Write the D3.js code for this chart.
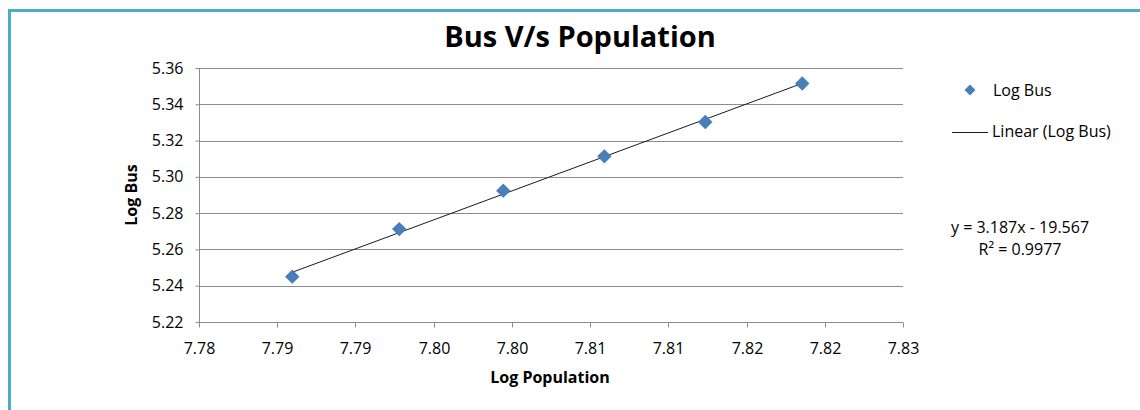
<!DOCTYPE html>
<html lang="en">
<head>
    <meta charset="utf-8">
    <title>Bus V/s Population</title>
    <script src="https://d3js.org/d3.v7.min.js"></script>
    <style>
      body { margin: 0; background: #fff; }
      text { font-family: "Open Sans", "Noto Sans", sans-serif; fill: #000; }
      .grid line { stroke: #8c8c8c; stroke-width: 1; }
    </style>
</head>
<body>
<svg id="chart"></svg>
<script>
    // Data
    const logPopulation = [7.78846, 7.79530, 7.80195, 7.80841, 7.81486, 7.82106];
    const logBus = [5.2450, 5.2712, 5.2924, 5.3113, 5.3302, 5.3515];

    // Axis setup
    const xMin = 7.7825, xMax = 7.8275;
    const xTickLabels = ["7.78", "7.79", "7.79", "7.80", "7.80", "7.81", "7.81", "7.82", "7.82", "7.83"];
    const yTicks = [5.22, 5.24, 5.26, 5.28, 5.30, 5.32, 5.34, 5.36];

    const equationText = "y = 3.187x - 19.567";
    const r2Text = "R² = 0.9977";

    const W = 1140, H = 410;
    const svg = d3.select("#chart").attr("width", W).attr("height", H);

    // Outer frame (teal border on left and top)
    svg.append("path")
        .attr("d", "M9.5," + H + " V10.5 H" + W)
        .attr("fill", "none")
        .attr("stroke", "#4bacc6")
        .attr("stroke-width", 3);

    const plot = { left: 199, right: 903, top: 68, bottom: 322 };

    const x = d3.scaleLinear().domain([xMin, xMax]).range([plot.left, plot.right]);
    const y = d3.scaleLinear().domain([5.22, 5.36]).range([plot.bottom, plot.top]);

    // Gridlines
    svg.append("g")
        .attr("class", "grid")
        .selectAll("line")
        .data(yTicks.slice(1))
        .join("line")
        .attr("x1", plot.left)
        .attr("x2", plot.right)
        .attr("y1", d => Math.round(y(d)) + 0.5)
        .attr("y2", d => Math.round(y(d)) + 0.5);

    // X axis: evenly spaced ticks, one per label (labels repeat, so draw by index)
    const xi = d3.scalePoint().domain(d3.range(xTickLabels.length)).range([plot.left, plot.right]);
    const xAxis = svg.append("g").attr("transform", `translate(0,${plot.bottom + 0.5})`);
    xAxis.append("path")
        .attr("d", `M${plot.left},0H${plot.right}`)
        .attr("stroke", "#8c8c8c");
    const xTick = xAxis.selectAll(".xtick")
        .data(xTickLabels.map((label, i) => ({ label, i })))
        .join("g")
        .attr("class", "xtick")
        .attr("transform", d => `translate(${Math.round(xi(d.i)) + 0.5},0)`);
    xTick.append("line").attr("y2", 5).attr("stroke", "#8c8c8c");
    xTick.append("text")
        .attr("y", 31)
        .attr("text-anchor", "middle")
        .style("font-size", "16px")
        .text(d => d.label);

    // Y axis
    const yAxis = svg.append("g")
        .attr("transform", `translate(${plot.left + 0.5},0)`)
        .call(d3.axisLeft(y)
            .tickValues(yTicks)
            .tickFormat(d3.format(".2f"))
            .tickSize(4)
            .tickPadding(12));
    yAxis.select(".domain").attr("stroke", "#8c8c8c").attr("d", `M0,${plot.top}V${plot.bottom}`);
    yAxis.selectAll(".tick line").attr("stroke", "#8c8c8c");
    yAxis.selectAll(".tick text")
        .style("font-size", "16px")
        .style("font-family", "'Open Sans', sans-serif")
        .attr("fill", "#000");

    // Linear trendline (least squares from data)
    const n = logPopulation.length;
    const mx = d3.mean(logPopulation), my = d3.mean(logBus);
    let sxy = 0, sxx = 0;
    for (let i = 0; i < n; i++) {
        sxy += (logPopulation[i] - mx) * (logBus[i] - my);
        sxx += (logPopulation[i] - mx) ** 2;
    }
    const slope = sxy / sxx, intercept = my - slope * mx;
    const xs = d3.extent(logPopulation);
    svg.append("line")
        .attr("x1", x(xs[0])).attr("y1", y(slope * xs[0] + intercept))
        .attr("x2", x(xs[1])).attr("y2", y(slope * xs[1] + intercept))
        .attr("stroke", "#1a1a1a")
        .attr("stroke-width", 1);

    // Diamond markers
    const diamond = d3.symbol().type(d3.symbolSquare).size(104);
    svg.selectAll(".pt")
        .data(logPopulation.map((d, i) => [d, logBus[i]]))
        .join("path")
        .attr("class", "pt")
        .attr("d", diamond)
        .attr("transform", d => `translate(${x(d[0])},${y(d[1])}) rotate(45)`)
        .attr("fill", "#4a7ebb");

    // Title
    svg.append("text")
        .attr("x", 580).attr("y", 47)
        .attr("text-anchor", "middle")
        .style("font-size", "29px")
        .style("font-weight", "bold")
        .text("Bus V/s Population");

    // Axis titles
    svg.append("text")
        .attr("x", 550).attr("y", 383)
        .attr("text-anchor", "middle")
        .style("font-size", "16px")
        .style("font-weight", "bold")
        .text("Log Population");

    svg.append("text")
        .attr("transform", "translate(137,195) rotate(-90)")
        .attr("text-anchor", "middle")
        .style("font-size", "16px")
        .style("font-weight", "bold")
        .text("Log Bus");

    // Legend
    svg.append("path")
        .attr("d", d3.symbol().type(d3.symbolSquare).size(60))
        .attr("transform", "translate(970,90) rotate(45)")
        .attr("fill", "#4a7ebb");
    svg.append("text")
        .attr("x", 993).attr("y", 96)
        .style("font-size", "16px")
        .text("Log Bus");
    svg.append("line")
        .attr("x1", 952).attr("x2", 988)
        .attr("y1", 132.5).attr("y2", 132.5)
        .attr("stroke", "#1a1a1a");
    svg.append("text")
        .attr("x", 992).attr("y", 137)
        .style("font-size", "16px")
        .text("Linear (Log Bus)");

    // Trendline equation
    svg.append("text")
        .attr("x", 1020).attr("y", 233)
        .attr("text-anchor", "middle")
        .style("font-size", "16px")
        .text(equationText);
    svg.append("text")
        .attr("x", 1020).attr("y", 255)
        .attr("text-anchor", "middle")
        .style("font-size", "16px")
        .text(r2Text);
</script>
</body>
</html>
